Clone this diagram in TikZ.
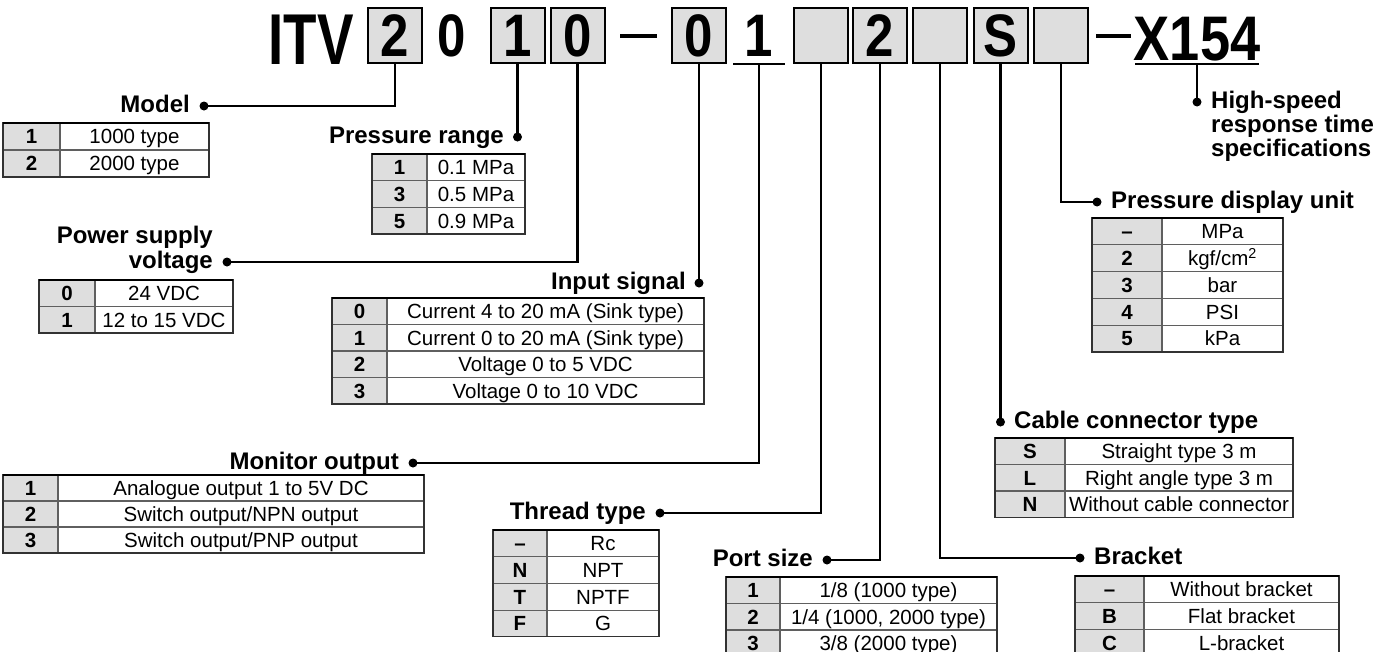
\documentclass[tikz,border=0pt]{standalone}
\usepackage{graphicx}
\usepackage{fontspec}
\setmainfont{Liberation Sans}
\definecolor{keygray}{RGB}{222,222,222}
\definecolor{rulegray}{RGB}{95,95,95}
\definecolor{framegray}{RGB}{50,50,50}
\newcommand{\tdig}[1]{\raisebox{-2.5pt}{\scalebox{0.85}[1]{#1}}}
\tikzset{
  conn/.style={line width=2.2pt, black},
  dotc/.style={circle, fill=black, inner sep=0pt, minimum size=9pt},
  lab/.style={font=\fontsize{24}{25}\selectfont\bfseries, inner sep=0pt},
  tbox/.style={draw=black, line width=2pt, fill=keygray, minimum width=54pt, minimum height=55pt, inner sep=0pt, font=\fontsize{60}{60}\selectfont\bfseries},
  tnum/.style={inner sep=0pt, font=\fontsize{60}{60}\selectfont\bfseries},
  cellk/.style={font=\fontsize{20.5}{21}\selectfont\bfseries, inner sep=0pt, text height=14.7pt, text depth=0pt},
  cellv/.style={font=\fontsize{20.5}{21}\selectfont, inner sep=0pt, text height=14.7pt, text depth=0pt},
  rowline/.style={draw=rulegray, line width=1.1pt},
  tabframe/.style={draw=framegray, line width=1.3pt},
  topline/.style={draw=black, line width=2.2pt},
  dashbar/.style={line width=3.5pt, black},
}
% #1 name, #2 x0, #3 xdiv, #4 x1, #5 top, #6 row height, #7 rows, #8 entries
\newcommand{\spectab}[8]{%
  \fill[keygray] (#2,#5) rectangle (#3,{#5+#7*#6});
  \foreach \k/\v [count=\i] in {#8} {
    \pgfmathsetmacro{\ya}{#5+(\i-1)*#6}
    \pgfmathsetmacro{\yb}{#5+\i*#6}
    \draw[rowline] (#2,\yb) -- (#4,\yb);
    \node[cellk] (#1-k\i) at ({(#2+#3)/2},{(\ya+\yb)/2}) {\k};
    \node[cellv] (#1-v\i) at ({(#3+#4)/2},{(\ya+\yb)/2}) {\v};
  }
  \draw[rowline] (#3,#5) -- (#3,{#5+#7*#6});
  \draw[tabframe] (#2,#5) rectangle (#4,{#5+#7*#6});
  \draw[topline] (#2,#5) -- (#4,#5);
}
\begin{document}
\begin{tikzpicture}[x=1pt,y=-1pt]
\useasboundingbox (0,0) rectangle (1390,651);
\clip (0,0) rectangle (1390,651);

% ---------- title row ----------
\node[tnum, anchor=base, font=\fontsize{72}{72}\selectfont\bfseries] (itv) at (311,64.5) {\scalebox{0.76}[1]{ITV}};
\node[tbox] (bModel) at (395,35.5) {\tdig{2}};
\node[tnum] (nZero) at (452,35.5) {\tdig{0}};
\node[tbox] (bPR) at (517.5,35.5) {\tdig{1}};
\node[tbox] (bPS) at (577.5,35.5) {\tdig{0}};
\coordinate (dashA1) at (620,36);
\coordinate (dashA2) at (657,36);
\draw[dashbar] (dashA1) -- (dashA2);
\node[tbox] (bIS) at (699,35.5) {\tdig{0}};
\node[tnum] (nMon) at (759,35.5) {\tdig{1}};
\coordinate (uMonL) at (733,63.5);
\coordinate (uMonR) at (785,63.5);
\coordinate (uMon) at (759,63.5);
\draw[line width=2pt] (uMonL) -- (uMonR);
\node[tbox] (bTT) at (821,35.5) {};
\node[tbox] (bPort) at (880,35.5) {\tdig{2}};
\node[tbox] (bBr) at (940,35.5) {};
\node[tbox] (bCab) at (1000.5,35.5) {\tdig{S}};
\node[tbox] (bPDU) at (1061,35.5) {};
\coordinate (dashB1) at (1096,36);
\coordinate (dashB2) at (1131,36);
\draw[dashbar] (dashB1) -- (dashB2);
\node[tnum, anchor=base, font=\fontsize{63}{63}\selectfont\bfseries] (x154) at (1197,60.5) {\scalebox{0.86}[1]{X154}};
\coordinate (uXL) at (1135,63.5);
\coordinate (uXR) at (1259,63.5);
\coordinate (uX) at (1197,63.5);
\draw[line width=2pt] (uXL) -- (uXR);

% ---------- dots ----------
\node[dotc] (dModel) at (204,106) {};
\node[dotc] (dPR) at (517.5,137) {};
\node[dotc] (dPS) at (227,262) {};
\node[dotc] (dIS) at (699,283) {};
\node[dotc] (dMon) at (413,463) {};
\node[dotc] (dTT) at (660,513) {};
\node[dotc] (dPort) at (827,560) {};
\node[dotc] (dBr) at (1080,558) {};
\node[dotc] (dCab) at (1000.5,422) {};
\node[dotc] (dPDU) at (1097,202) {};
\node[dotc] (dHS) at (1197,102) {};

% ---------- connectors ----------
\draw[conn] (bModel.south) |- (dModel.center);
\draw[conn] (bPR.south) -- (dPR.center);
\draw[conn] (bPS.south) |- (dPS.center);
\draw[conn] (bIS.south) -- (dIS.center);
\draw[conn] (uMon) |- (dMon.center);
\draw[conn] (bTT.south) |- (dTT.center);
\draw[conn] (bPort.south) |- (dPort.center);
\draw[conn] (bBr.south) |- (dBr.center);
\draw[conn] (bCab.south) -- (dCab.center);
\draw[conn] (bPDU.south) |- (dPDU.center);
\draw[conn] (uX) -- (dHS.center);

% ---------- labels ----------
\node[lab, anchor=base east] (lModel) at (190,112) {Model};
\node[lab, anchor=base east] (lPR) at (504,143) {Pressure range};
\node[lab, anchor=base east] (lPS1) at (213,243) {Power supply};
\node[lab, anchor=base east] (lPS2) at (213,268) {voltage};
\node[lab, anchor=base east] (lIS) at (686,289) {Input signal};
\node[lab, anchor=base east] (lMon) at (399,469) {Monitor output};
\node[lab, anchor=base east] (lTT) at (646,519) {Thread type};
\node[lab, anchor=base east] (lPort) at (813,566) {Port size};
\node[lab, anchor=base west] (lBr) at (1094,564) {Bracket};
\node[lab, anchor=base west] (lCab) at (1014,428) {Cable connector type};
\node[lab, anchor=base west] (lPDU) at (1111,208) {Pressure display unit};
\node[lab, anchor=base west] (lHS1) at (1211,108) {High-speed};
\node[lab, anchor=base west] (lHS2) at (1211,132) {response time};
\node[lab, anchor=base west] (lHS3) at (1211,156) {specifications};

% ---------- tables ----------
\spectab{tM}{3}{60}{209}{123}{27}{2}{1/1000 type, 2/2000 type}
\spectab{tPR}{372}{427}{525}{154}{26.7}{3}{1/0.1 MPa, 3/0.5 MPa, 5/0.9 MPa}
\spectab{tPS}{39}{95}{233}{280}{26.5}{2}{0/24 VDC, 1/12 to 15 VDC}
\spectab{tIS}{332}{387}{704}{298}{26.5}{4}{0/Current 4 to 20 mA (Sink type), 1/Current 0 to 20 mA (Sink type), 2/Voltage 0 to 5 VDC, 3/Voltage 0 to 10 VDC}
\spectab{tMon}{3}{58}{424}{475}{26}{3}{1/Analogue output 1 to 5V DC, 2/{Switch output/NPN output}, 3/{Switch output/PNP output}}
\spectab{tTT}{493}{547}{659}{530}{26.7}{4}{–/Rc, N/NPT, T/NPTF, F/G}
\spectab{tPort}{726}{780}{997}{577}{26.5}{3}{1/{1/8 (1000 type)}, 2/{1/4 (1000, 2000 type)}, 3/{3/8 (2000 type)}}
\spectab{tBr}{1075}{1144}{1339}{576}{26.7}{3}{–/Without bracket, B/Flat bracket, C/L-bracket}
\spectab{tCab}{995}{1065}{1293}{438}{26.5}{3}{S/Straight type 3 m, L/Right angle type 3 m, N/Without cable connector}
\spectab{tPDU}{1092}{1162}{1283}{218}{26.8}{5}{–/MPa, 2/{kgf/cm\textsuperscript{2}}, 3/bar, 4/PSI, 5/kPa}
\end{tikzpicture}
\end{document}
